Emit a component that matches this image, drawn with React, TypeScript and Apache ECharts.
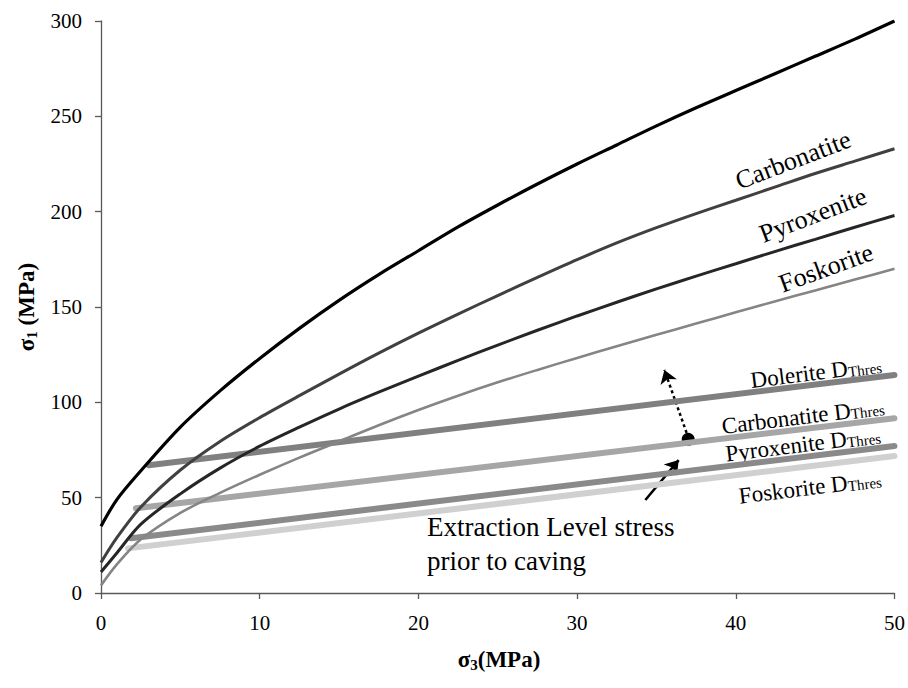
import React, { useEffect, useRef } from 'react';
import * as echarts from 'echarts';

const FONT = 'Liberation Serif';

// sigma3 (MPa) sample positions for strength envelopes
const sigma3Values = [0, 1, 2.5, 5, 7.5, 10, 12.5, 15, 17.5, 20, 22.5, 25, 27.5, 30, 32.5, 35, 37.5, 40, 42.5, 45, 47.5, 50];
// sigma1 (MPa) for each envelope
const envelopeTop = [35, 49, 64, 87, 106, 123, 138.8, 153.5, 167, 179.5, 192, 203.5, 214.5, 225, 235, 245, 254.5, 263.5, 272.5, 281.5, 290.5, 300];
const carbonatite = [16, 29, 45, 64.5, 79.5, 92, 103.5, 114.8, 125.8, 136.3, 146.3, 156, 165.5, 174.8, 183.6, 191.6, 199, 206, 213, 220, 226.5, 233];
const pyroxenite = [11, 21, 36, 52, 65.5, 77, 87, 96.5, 105.3, 113.7, 122, 130, 137.8, 145.3, 152.5, 159.5, 166.2, 172.7, 179.2, 185.5, 191.8, 198];
const foskorite = [4, 15, 28, 42, 52.5, 62, 71, 79.5, 88, 96, 103.5, 110.5, 117, 123.3, 129.4, 135.4, 141.3, 147.2, 153, 158.7, 164.4, 170];

// damage threshold lines: [sigma3, sigma1] start and end
const doleriteThres = [[3, 67], [50, 114.3]];
const carbonatiteThres = [[2.2, 44.4], [50, 91.6]];
const pyroxeniteThres = [[1.9, 28.7], [50, 77.1]];
const foskoriteThres = [[1.7, 23.4], [50, 71.8]];

// extraction level stress point and arrows
const stressPoint = [37, 80.6];
const dottedArrow = [[36.9, 84], [35.5, 117]];
const solidArrow = [[34.3, 48.8], [36.4, 69.7]];

const xMin = 0, xMax = 50, xStep = 10;
const yMin = 0, yMax = 300, yStep = 50;

const pairs = (ys: number[]) => sigma3Values.map((x, i) => [x, ys[i]]);

export default function App() {
  const ref = useRef<HTMLDivElement>(null);
  useEffect(() => {
    document.body.style.margin = '0';
    if (!ref.current) return;
    const chart = echarts.init(ref.current, undefined, { renderer: 'svg' });
    const axisLine = { show: true, lineStyle: { color: '#595959', width: 1.3 } };
    const thick = (data: number[][], color: string) => ({
      type: 'line', data, symbol: 'none', silent: true,
      lineStyle: { color, width: 6, cap: 'round' },
    });
    const curve = (ys: number[], color: string, width: number) => ({
      type: 'line', data: pairs(ys), symbol: 'none', smooth: 0.3, silent: true,
      lineStyle: { color, width },
    });
    const sub = (main: string, s: string, size: number, subSize: number) => ({
      text: `{m|${main}}{s|${s}}`,
      rich: {
        m: { fontSize: size, fontFamily: FONT, fill: '#000', lineHeight: size },
        s: { fontSize: subSize, fontFamily: FONT, fill: '#000', verticalAlign: 'bottom' },
      },
      align: 'center', verticalAlign: 'middle',
    });
    const deg = Math.PI / 180;
    const label = (text: string, x: number, y: number, rot: number, size = 26) => ({
      type: 'text', x, y, rotation: rot * deg,
      style: { text, fontSize: size, fontFamily: FONT, fill: '#000', align: 'center', verticalAlign: 'middle' },
    });
    const thresLabel = (name: string, x: number, y: number, rot: number) => ({
      type: 'text', x, y, rotation: rot * deg,
      style: sub(name + ' D', 'Thres', 23, 15),
    });
    const titleRich = {
      m: { fontSize: 23, fontFamily: FONT, fontWeight: 'bold', fill: '#000', lineHeight: 27 },
      s: { fontSize: 15, fontFamily: FONT, fontWeight: 'bold', fill: '#000', verticalAlign: 'bottom' },
    };
    chart.setOption({
      animation: false,
      grid: { left: 101, right: 11, top: 21, bottom: 95, containLabel: false },
      xAxis: {
        type: 'value', min: xMin, max: xMax, interval: xStep,
        axisLine, axisTick: { show: true, length: 6, lineStyle: { color: '#595959', width: 1.3 } },
        axisLabel: { fontSize: 21, color: '#000', fontFamily: FONT, margin: 19 },
        splitLine: { show: false },
      },
      yAxis: {
        type: 'value', min: yMin, max: yMax, interval: yStep,
        axisLine, axisTick: { show: true, length: 6, lineStyle: { color: '#595959', width: 1.3 } },
        axisLabel: { fontSize: 21, color: '#000', fontFamily: FONT, margin: 19 },
        splitLine: { show: false },
      },
      series: [
        thick(doleriteThres, '#808080'),
        thick(carbonatiteThres, '#a6a6a6'),
        thick(pyroxeniteThres, '#8a8a8a'),
        thick(foskoriteThres, '#d0d0d0'),
        curve(foskorite, '#858585', 2.6),
        curve(pyroxenite, '#262626', 3),
        curve(carbonatite, '#404040', 3),
        curve(envelopeTop, '#000000', 3.2),
        {
          type: 'lines', coordinateSystem: 'cartesian2d', silent: true,
          symbol: ['none', 'arrow'], symbolSize: 13,
          data: [{ coords: dottedArrow }],
          lineStyle: { color: '#000', width: 2.5, type: [3, 3], opacity: 1 },
        },
        {
          type: 'lines', coordinateSystem: 'cartesian2d', silent: true,
          symbol: ['none', 'arrow'], symbolSize: 13,
          data: [{ coords: solidArrow }],
          lineStyle: { color: '#000', width: 2.5, type: 'solid', opacity: 1 },
        },
        {
          type: 'scatter', data: [stressPoint], symbol: 'circle', symbolSize: 13, silent: true,
          itemStyle: { color: '#000', opacity: 1 },
        },
      ],
      graphic: [
        {
          type: 'text', x: 26, y: 307, rotation: 90 * deg,
          style: { text: '{m|σ}{s|1}{m| (MPa)}', rich: titleRich, align: 'center', verticalAlign: 'middle' },
        },
        {
          type: 'text', x: 499, y: 659,
          style: { text: '{m|σ}{s|3}{m|(MPa)}', rich: titleRich, align: 'center', verticalAlign: 'middle' },
        },
        label('Carbonatite', 793, 160, 21),
        label('Pyroxenite', 813, 215, 21),
        label('Foskorite', 826, 268, 20),
        thresLabel('Dolerite', 816, 372, 7),
        thresLabel('Carbonatite', 803, 416, 7),
        thresLabel('Pyroxenite', 803, 444, 7),
        thresLabel('Foskorite', 810, 487, 7),
        {
          type: 'text', x: 427, y: 527,
          style: { text: 'Extraction Level stress', fontSize: 27, fontFamily: FONT, fill: '#000', align: 'left', verticalAlign: 'middle' },
        },
        {
          type: 'text', x: 427, y: 561,
          style: { text: 'prior to caving', fontSize: 27, fontFamily: FONT, fill: '#000', align: 'left', verticalAlign: 'middle' },
        },
      ],
    });
    return () => chart.dispose();
  }, []);
  return <div ref={ref} style={{ width: 908, height: 688 }} />;
}
